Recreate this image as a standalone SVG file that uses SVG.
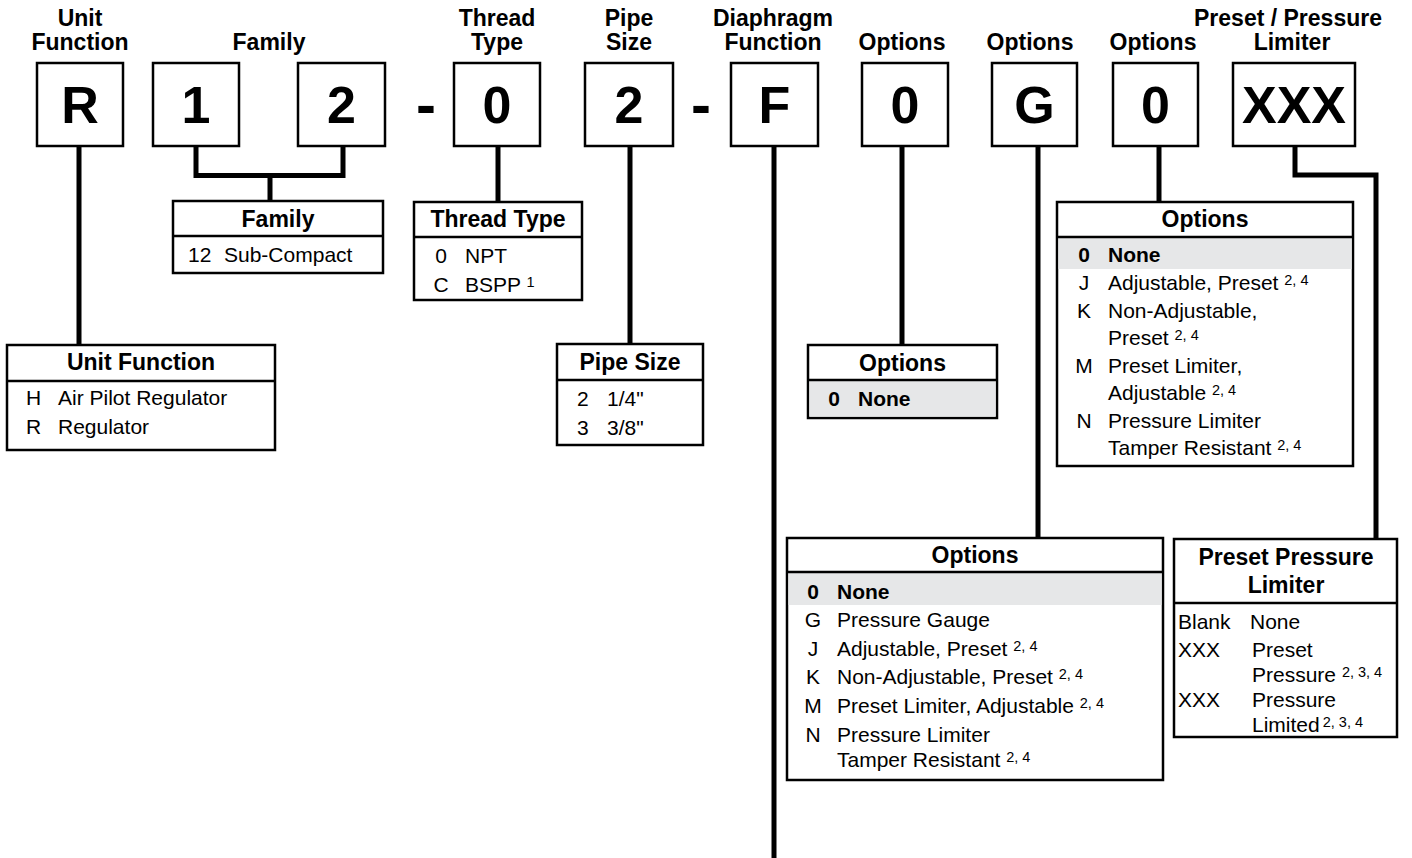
<svg xmlns="http://www.w3.org/2000/svg" width="1412" height="858" viewBox="0 0 1412 858">
<style>
text{font-family:"Liberation Sans",Arial,sans-serif;fill:#000}
.hd{font-size:23px;font-weight:bold;text-anchor:middle}
.big{font-size:52px;font-weight:bold;text-anchor:middle}
.ttl{font-size:23px;font-weight:bold;text-anchor:middle}
.row{font-size:21px}
.b{font-weight:bold}
.c{text-anchor:middle}
.sup{font-size:14.5px}
.box{fill:#fff;stroke:#000;stroke-width:2.5}
.shade{fill:#e6e7e8}
.div{stroke:#000;stroke-width:2.5}
.ln{fill:none;stroke:#000;stroke-width:5;stroke-linejoin:miter;stroke-linecap:butt}
</style>

<g id="headers">
<text class="hd" x="80" y="26">Unit</text>
<text class="hd" x="80" y="50">Function</text>
<text class="hd" x="269" y="50">Family</text>
<text class="hd" x="497" y="26">Thread</text>
<text class="hd" x="497" y="50">Type</text>
<text class="hd" x="629" y="26">Pipe</text>
<text class="hd" x="629" y="50">Size</text>
<text class="hd" x="773" y="26">Diaphragm</text>
<text class="hd" x="773" y="50">Function</text>
<text class="hd" x="902" y="50">Options</text>
<text class="hd" x="1030" y="50">Options</text>
<text class="hd" x="1153" y="50">Options</text>
<text class="hd" x="1288" y="26">Preset / Pressure</text>
<text class="hd" x="1292" y="50">Limiter</text>
</g>

<g id="code-R"><rect class="box" x="37" y="63" width="86" height="83"/><text class="big" x="80" y="123">R</text></g>
<g id="code-1"><rect class="box" x="153" y="63" width="86" height="83"/><text class="big" x="196" y="123">1</text></g>
<g id="code-2"><rect class="box" x="298" y="63" width="87" height="83"/><text class="big" x="341.5" y="123">2</text></g>
<g id="dash-1"><text class="big" x="426" y="125" style="font-size:60px">-</text></g>
<g id="code-0a"><rect class="box" x="454" y="63" width="86" height="83"/><text class="big" x="497" y="123">0</text></g>
<g id="code-2b"><rect class="box" x="585" y="63" width="88" height="83"/><text class="big" x="629" y="123">2</text></g>
<g id="dash-2"><text class="big" x="701" y="125" style="font-size:60px">-</text></g>
<g id="code-F"><rect class="box" x="731" y="63" width="87" height="83"/><text class="big" x="774.5" y="123">F</text></g>
<g id="code-0b"><rect class="box" x="862" y="63" width="86" height="83"/><text class="big" x="905" y="123">0</text></g>
<g id="code-G"><rect class="box" x="992" y="63" width="85" height="83"/><text class="big" x="1034.5" y="123">G</text></g>
<g id="code-0c"><rect class="box" x="1113" y="63" width="85" height="83"/><text class="big" x="1155.5" y="123">0</text></g>
<g id="code-XXX"><rect class="box" x="1233" y="63" width="122" height="83"/><text class="big" x="1294" y="123">XXX</text></g>

<g id="connectors">
<path class="ln" d="M79 146V346"/>
<path class="ln" d="M196 146V175.5H343V146"/>
<path class="ln" d="M270 175.5V202"/>
<path class="ln" d="M498 146V203"/>
<path class="ln" d="M630 146V345"/>
<path class="ln" d="M774 146V858"/>
<path class="ln" d="M902 146V346"/>
<path class="ln" d="M1038 146V539"/>
<path class="ln" d="M1159 146V203"/>
<path class="ln" d="M1295 146V175H1376V540"/>
</g>

<g id="unit-function">
<rect class="box" x="7" y="345" width="268" height="105"/>
<line class="div" x1="7" y1="381" x2="275" y2="381"/>
<text class="ttl" x="141" y="370">Unit Function</text>
<text class="row" x="26" y="405">H</text><text class="row" x="58" y="405">Air Pilot Regulator</text>
<text class="row" x="26" y="434">R</text><text class="row" x="58" y="434">Regulator</text>
</g>

<g id="family">
<rect class="box" x="173" y="201" width="210" height="72"/>
<line class="div" x1="173" y1="236" x2="383" y2="236"/>
<text class="ttl" x="278" y="227">Family</text>
<text class="row" x="188" y="262">12</text><text class="row" x="224" y="262">Sub-Compact</text>
</g>

<g id="thread-type">
<rect class="box" x="414" y="202" width="168" height="98"/>
<line class="div" x1="414" y1="237" x2="582" y2="237"/>
<text class="ttl" x="498" y="227">Thread Type</text>
<text class="row c" x="441" y="263">0</text><text class="row" x="465" y="263">NPT</text>
<text class="row c" x="441" y="292">C</text><text class="row" x="465" y="292">BSPP <tspan class="sup" dy="-5">1</tspan></text>
</g>

<g id="pipe-size">
<rect class="box" x="557" y="344" width="146" height="101"/>
<line class="div" x1="557" y1="380" x2="703" y2="380"/>
<text class="ttl" x="630" y="370">Pipe Size</text>
<text class="row" x="577" y="406">2</text><text class="row" x="607" y="406">1/4"</text>
<text class="row" x="577" y="435">3</text><text class="row" x="607" y="435">3/8"</text>
</g>

<g id="options-1">
<rect class="box" x="808" y="345" width="189" height="73"/>
<rect class="shade" x="809.5" y="380" width="186" height="36.5"/>
<line class="div" x1="808" y1="380" x2="997" y2="380"/>
<text class="ttl" x="902.5" y="371">Options</text>
<text class="row b c" x="834" y="406">0</text><text class="row b" x="858" y="406">None</text>
</g>

<g id="options-3">
<rect class="box" x="1057" y="202" width="296" height="264"/>
<rect class="shade" x="1058.5" y="237" width="293" height="32"/>
<line class="div" x1="1057" y1="237" x2="1353" y2="237"/>
<text class="ttl" x="1205" y="227">Options</text>
<text class="row b c" x="1084" y="262">0</text><text class="row b" x="1108" y="262">None</text>
<text class="row c" x="1084" y="290">J</text><text class="row" x="1108" y="290">Adjustable, Preset <tspan class="sup" dy="-5">2, 4</tspan></text>
<text class="row c" x="1084" y="318">K</text><text class="row" x="1108" y="318">Non-Adjustable,</text>
<text class="row" x="1108" y="345">Preset <tspan class="sup" dy="-5">2, 4</tspan></text>
<text class="row c" x="1084" y="373">M</text><text class="row" x="1108" y="373">Preset Limiter,</text>
<text class="row" x="1108" y="400">Adjustable <tspan class="sup" dy="-5">2, 4</tspan></text>
<text class="row c" x="1084" y="428">N</text><text class="row" x="1108" y="428">Pressure Limiter</text>
<text class="row" x="1108" y="455">Tamper Resistant <tspan class="sup" dy="-5">2, 4</tspan></text>
</g>

<g id="options-2">
<rect class="box" x="787" y="538" width="376" height="242"/>
<rect class="shade" x="788.5" y="572" width="373" height="33"/>
<line class="div" x1="787" y1="572" x2="1163" y2="572"/>
<text class="ttl" x="975" y="563">Options</text>
<text class="row b c" x="813" y="599">0</text><text class="row b" x="837" y="599">None</text>
<text class="row c" x="813" y="627">G</text><text class="row" x="837" y="627">Pressure Gauge</text>
<text class="row c" x="813" y="656">J</text><text class="row" x="837" y="656">Adjustable, Preset <tspan class="sup" dy="-5">2, 4</tspan></text>
<text class="row c" x="813" y="684">K</text><text class="row" x="837" y="684">Non-Adjustable, Preset <tspan class="sup" dy="-5">2, 4</tspan></text>
<text class="row c" x="813" y="713">M</text><text class="row" x="837" y="713">Preset Limiter, Adjustable <tspan class="sup" dy="-5">2, 4</tspan></text>
<text class="row c" x="813" y="742">N</text><text class="row" x="837" y="742">Pressure Limiter</text>
<text class="row" x="837" y="767">Tamper Resistant <tspan class="sup" dy="-5">2, 4</tspan></text>
</g>

<g id="preset-pressure-limiter">
<rect class="box" x="1174" y="539" width="223" height="198"/>
<line class="div" x1="1174" y1="603" x2="1397" y2="603"/>
<text class="ttl" x="1286" y="565">Preset Pressure</text>
<text class="ttl" x="1286" y="593">Limiter</text>
<text class="row" x="1178" y="629">Blank</text><text class="row" x="1250" y="629">None</text>
<text class="row" x="1178" y="657">XXX</text><text class="row" x="1252" y="657">Preset</text>
<text class="row" x="1252" y="682">Pressure <tspan class="sup" dy="-5">2, 3, 4</tspan></text>
<text class="row" x="1178" y="707">XXX</text><text class="row" x="1252" y="707">Pressure</text>
<text class="row" x="1252" y="732">Limited<tspan class="sup" dx="3" dy="-5">2, 3, 4</tspan></text>
</g>
</svg>
